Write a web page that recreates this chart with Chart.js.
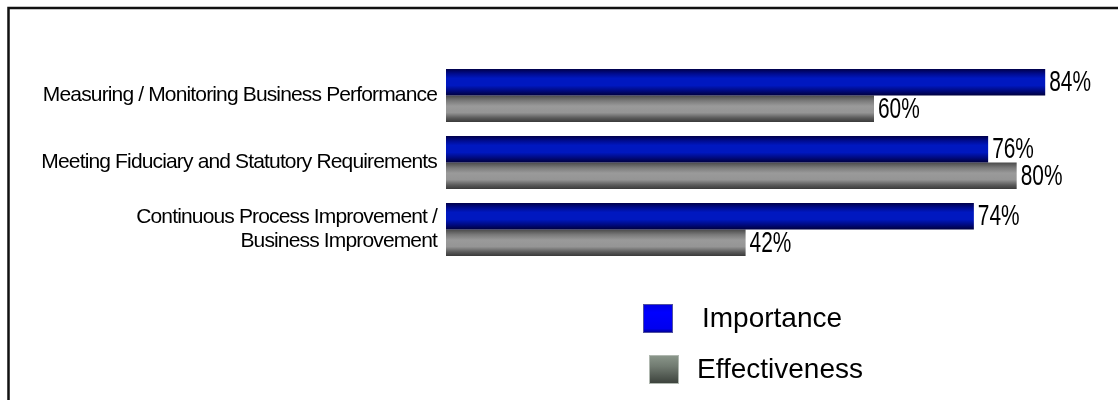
<!DOCTYPE html>
<html><head><meta charset="utf-8">
<script src="https://cdn.jsdelivr.net/npm/chart.js@4/dist/chart.umd.min.js"></script>
<style>html,body{margin:0;padding:0;background:#fff}#wrap{width:1118px;height:400px;position:relative}canvas{display:block}</style>
</head><body><div id="wrap"><canvas id="c" width="1118" height="400"></canvas></div>
<script>
const categories = [
  ["Measuring / Monitoring Business Performance"],
  ["Meeting Fiduciary and Statutory Requirements"],
  ["Continuous Process Improvement /", "Business Improvement"]
];
const seriesNames = ["Importance", "Effectiveness"];
const importance = [84, 76, 74];
const effectiveness = [60, 80, 42];

const barStops = [
  [[0, '#00004a'], [0.18, '#000c90'], [0.35, '#0018c0'], [0.62, '#0018c0'], [0.82, '#000a80'], [1, '#00003e']],
  [[0, '#4a4a4a'], [0.2, '#7a7a7a'], [0.4, '#9a9a9a'], [0.65, '#959595'], [0.85, '#5a5a5a'], [1, '#3a3a3a']]
];
const legendStops = [
  [[0, '#0000e0'], [0.3, '#0000ff'], [0.85, '#0000ee'], [1, '#000080']],
  [[0, '#8c988c'], [0.4, '#707a70'], [1, '#3a403a']]
];
const legendBoxX = [643, 649];
const legendTextX = [702, 697];
const legendTop = 304, legendRowGap = 51, boxW = 30, boxH = 29;

const trackingPlugin = {
  id: 'tracking',
  beforeDraw(chart) { chart.ctx.letterSpacing = '-0.85px'; },
  beforeDatasetsDraw(chart) { chart.ctx.letterSpacing = '0px'; }
};

const gradPlugin = {
  id: 'grad',
  beforeDatasetsDraw(chart) {
    const ctx = chart.ctx;
    chart.data.datasets.forEach((ds, di) => {
      chart.getDatasetMeta(di).data.forEach(el => {
        const p = el.getProps(['y', 'height'], true);
        const g = ctx.createLinearGradient(0, p.y - p.height / 2, 0, p.y + p.height / 2);
        barStops[di].forEach(s => g.addColorStop(s[0], s[1]));
        el.options = Object.assign({}, el.options, { backgroundColor: g });
      });
    });
  }
};

const labelPlugin = {
  id: 'vlabels',
  afterDatasetsDraw(chart) {
    const ctx = chart.ctx;
    chart.data.datasets.forEach((ds, di) => {
      chart.getDatasetMeta(di).data.forEach((el, i) => {
        const p = el.getProps(['x', 'y'], true);
        ctx.save();
        ctx.translate(p.x + 4, p.y + 1);
        ctx.scale(0.72, 1);
        ctx.font = '29px "Liberation Sans", Arial, sans-serif';
        ctx.fillStyle = '#000';
        ctx.textBaseline = 'middle';
        ctx.textAlign = 'left';
        ctx.fillText(ds.data[i] + '%', 0, 0);
        ctx.restore();
      });
    });
  }
};

const framePlugin = {
  id: 'frame',
  afterDraw(chart) {
    const ctx = chart.ctx;
    ctx.save();
    ctx.strokeStyle = '#111';
    ctx.lineWidth = 2.5;
    ctx.beginPath();
    ctx.moveTo(8.5, 400);
    ctx.lineTo(8.5, 8);
    ctx.lineTo(1118, 8);
    ctx.stroke();
    ctx.restore();
  }
};

const legendPlugin = {
  id: 'customLegend',
  afterDraw(chart) {
    const ctx = chart.ctx;
    chart.data.datasets.forEach((ds, di) => {
      const bx = legendBoxX[di], by = legendTop + di * legendRowGap;
      const g = ctx.createLinearGradient(0, by, 0, by + boxH);
      legendStops[di].forEach(s => g.addColorStop(s[0], s[1]));
      ctx.save();
      ctx.fillStyle = g;
      ctx.fillRect(bx, by, boxW, boxH);
      ctx.strokeStyle = di === 0 ? '#5050a0' : '#b0b8b0';
      ctx.lineWidth = 1;
      ctx.strokeRect(bx + 0.5, by + 0.5, boxW - 1, boxH - 1);
      ctx.font = '28px "Liberation Sans", Arial, sans-serif';
      ctx.fillStyle = '#000';
      ctx.textBaseline = 'middle';
      ctx.textAlign = 'left';
      ctx.fillText(ds.label, legendTextX[di], by + boxH / 2 + 1);
      ctx.restore();
    });
  }
};

new Chart(document.getElementById('c'), {
  type: 'bar',
  data: {
    labels: categories,
    datasets: [
      { label: seriesNames[0], data: importance, backgroundColor: '#0018c0' },
      { label: seriesNames[1], data: effectiveness, backgroundColor: '#959595' }
    ]
  },
  options: {
    indexAxis: 'y',
    responsive: false,
    animation: false,
    devicePixelRatio: 1,
    categoryPercentage: 0.79,
    barPercentage: 1,
    layout: { padding: { top: 62, bottom: 137, left: 0, right: 30 } },
    plugins: { legend: { display: false }, tooltip: { enabled: false } },
    scales: {
      x: { display: false, min: 0, max: 90 },
      y: {
        grid: { display: false, drawTicks: false },
        border: { display: false },
        afterFit(s) { s.width = 446; },
        ticks: {
          padding: 9,
          color: '#000',
          font: { family: '"Liberation Sans", Arial, sans-serif', size: 21, lineHeight: 1.15 }
        }
      }
    }
  },
  plugins: [trackingPlugin, gradPlugin, labelPlugin, framePlugin, legendPlugin]
});
</script></body></html>
